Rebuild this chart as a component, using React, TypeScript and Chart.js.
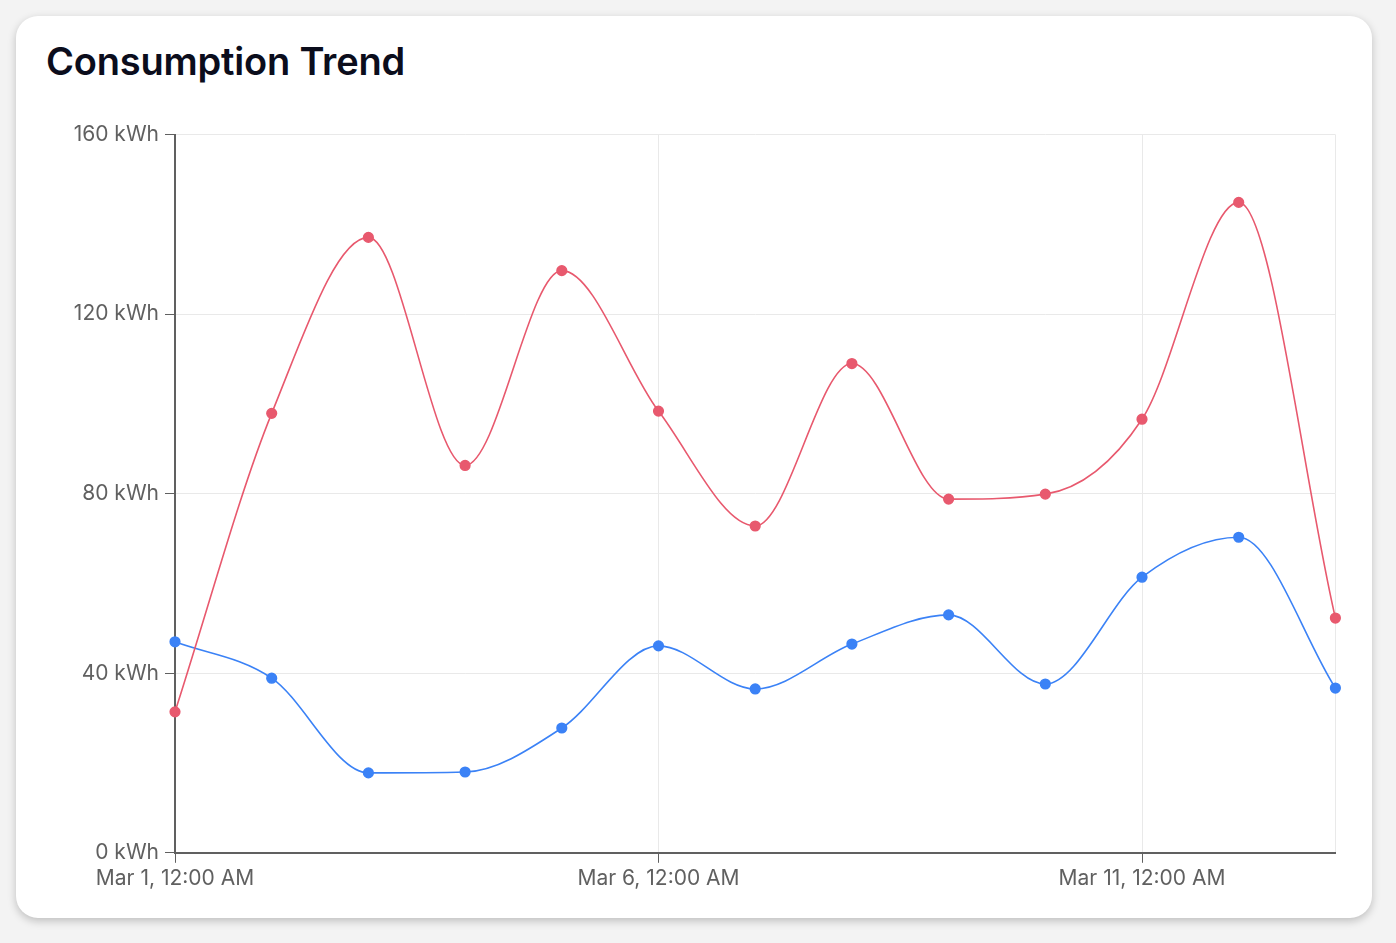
import React, { useEffect, useRef } from 'react';
import { Chart, registerables } from 'chart.js';

Chart.register(...registerables);

// one reading per day, Mar 1 .. Mar 13
const days: string[] = [
  'Mar 1, 12:00 AM', 'Mar 2, 12:00 AM', 'Mar 3, 12:00 AM', 'Mar 4, 12:00 AM',
  'Mar 5, 12:00 AM', 'Mar 6, 12:00 AM', 'Mar 7, 12:00 AM', 'Mar 8, 12:00 AM',
  'Mar 9, 12:00 AM', 'Mar 10, 12:00 AM', 'Mar 11, 12:00 AM', 'Mar 12, 12:00 AM',
  'Mar 13, 12:00 AM',
];
const redValues: number[] = [31.4, 97.9, 137.1, 86.3, 129.7, 98.4, 72.8, 109.0, 78.8, 79.9, 96.6, 144.9, 52.3];
const blueValues: number[] = [47.0, 38.9, 17.8, 18.0, 27.8, 46.1, 36.5, 46.5, 53.0, 37.6, 61.4, 70.3, 36.7];
const yTicks: number[] = [0, 40, 80, 120, 160];

const RED = '#e8596e';
const BLUE = '#3b82f6';
const AXIS = '#606060';
const GRID = '#e9e9e9';
const FONT = 'Inter, "Noto Sans", sans-serif';

const ConsumptionChart: React.FC = () => {
  const canvasRef = useRef<HTMLCanvasElement>(null);

  useEffect(() => {
    if (!canvasRef.current) return;
    const ctx = canvasRef.current.getContext('2d');
    if (!ctx) return;

    const chart = new Chart(ctx, {
      type: 'line',
      data: {
        labels: days,
        datasets: [
          {
            label: 'Red',
            data: redValues,
            borderColor: RED,
            backgroundColor: RED,
            borderWidth: 1.6,
            pointRadius: 4.8,
            pointHoverRadius: 5,
            cubicInterpolationMode: 'monotone',
          },
          {
            label: 'Blue',
            data: blueValues,
            borderColor: BLUE,
            backgroundColor: BLUE,
            borderWidth: 1.6,
            pointRadius: 4.8,
            pointHoverRadius: 5,
            cubicInterpolationMode: 'monotone',
          },
        ],
      },
      options: {
        animation: false,
        responsive: true,
        maintainAspectRatio: false,
        layout: { padding: { top: 0, right: 6, bottom: 0, left: 0 } },
        plugins: {
          legend: { display: false },
          tooltip: { enabled: false },
        },
        scales: {
          x: {
            offset: false,
            border: { color: AXIS, width: 2 },
            grid: {
              color: (c: any) => (c.index % 5 === 0 || c.index === days.length - 1 ? GRID : 'transparent'),
              tickColor: (c: any) => (c.index % 5 === 0 ? AXIS : 'transparent'),
              tickLength: 10,
            },
            ticks: {
              autoSkip: false,
              maxRotation: 0,
              padding: 3,
              color: AXIS,
              font: { family: FONT, size: 21 },
              callback: (_v: any, i: number) => (i % 5 === 0 ? days[i] : ''),
            },
          },
          y: {
            min: 0,
            max: 160,
            afterBuildTicks: (scale: any) => {
              scale.ticks = yTicks.map((v) => ({ value: v }));
            },
            afterFit: (scale: any) => {
              scale.width = 129;
            },
            border: { color: AXIS, width: 2 },
            grid: {
              color: GRID,
              tickColor: AXIS,
              tickLength: 10,
            },
            ticks: {
              padding: 6,
              color: AXIS,
              font: { family: FONT, size: 21 },
              callback: (v: any) => `${v} kWh`,
            },
          },
        },
      },
    });

    return () => {
      chart.destroy();
    };
  }, []);

  return <canvas ref={canvasRef}></canvas>;
};

const App: React.FC = () => {
  return (
    <div
      style={{
        position: 'fixed',
        inset: 0,
        background: '#f3f3f3',
        fontFamily: FONT,
      }}
    >
      <div
        style={{
          position: 'absolute',
          left: 16,
          top: 16,
          width: 1356,
          height: 902,
          background: '#ffffff',
          borderRadius: 22,
          boxShadow: '0 3px 8px rgba(0,0,0,0.22)',
        }}
      >
        <h2
          style={{
            position: 'absolute',
            left: 30,
            top: 22,
            margin: 0,
            fontSize: 38,
            fontWeight: 600,
            color: '#0b0d1c',
            letterSpacing: -0.2,
          }}
        >
          Consumption Trend
        </h2>
        <div style={{ position: 'absolute', left: 30, top: 100, width: 1296, height: 778 }}>
          <ConsumptionChart />
        </div>
      </div>
    </div>
  );
};

export default App;
